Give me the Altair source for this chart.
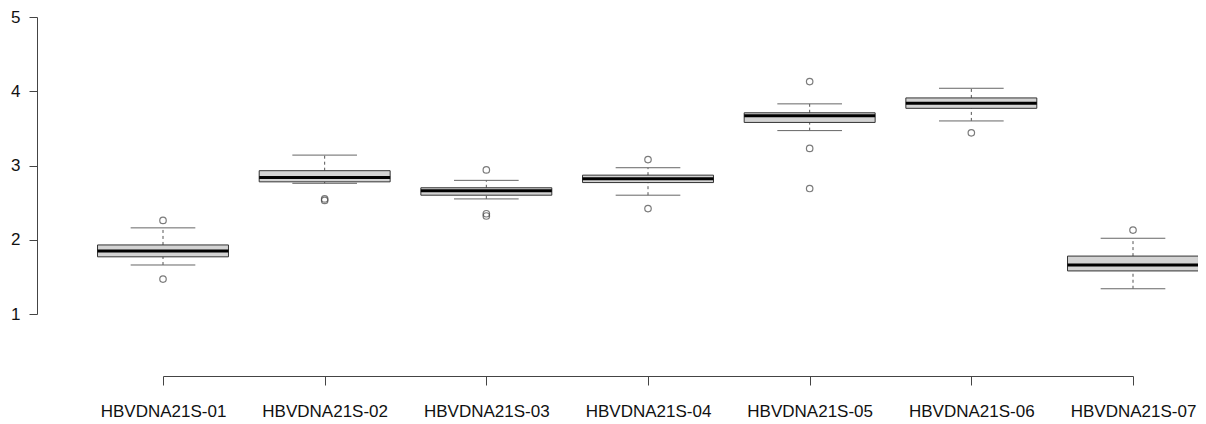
import json
import altair as alt
import pandas as pd

categories = ["HBVDNA21S-01", "HBVDNA21S-02", "HBVDNA21S-03", "HBVDNA21S-04",
              "HBVDNA21S-05", "HBVDNA21S-06", "HBVDNA21S-07"]
positions = [1, 2, 3, 4, 5, 6, 7]
whisker_low = [1.66, 2.76, 2.55, 2.60, 3.47, 3.60, 1.34]
q1 = [1.77, 2.78, 2.60, 2.77, 3.58, 3.77, 1.58]
median = [1.85, 2.84, 2.66, 2.82, 3.67, 3.84, 1.66]
q3 = [1.93, 2.93, 2.70, 2.87, 3.71, 3.91, 1.78]
whisker_high = [2.16, 3.14, 2.80, 2.97, 3.83, 4.04, 2.02]
outlier_group = [1, 1, 2, 2, 3, 3, 3, 4, 4, 5, 5, 5, 6, 7]
outlier_value = [2.26, 1.47, 2.55, 2.53, 2.94, 2.35, 2.32, 3.08, 2.42,
                 4.13, 3.23, 2.69, 3.44, 2.13]
y_ticks = [1, 2, 3, 4, 5]

box_half = 0.405
cap_half = 0.2

boxes = pd.DataFrame({
    "pos": positions, "lo": whisker_low, "q1": q1, "med": median,
    "q3": q3, "hi": whisker_high,
})
outliers = pd.DataFrame({"pos": outlier_group, "val": outlier_value})

FONT = "Liberation Sans"
AXIS_COLOR = "#444444"

xscale = alt.Scale(domain=[1, 7], nice=False, zero=False)
yscale = alt.Scale(domain=[1, 5], nice=False, zero=False)

label_expr = json.dumps(categories) + "[datum.value - 1]"
xaxis = alt.Axis(values=positions, labelExpr=label_expr, title=None, grid=False,
                 offset=62, tickSize=9, labelPadding=18, labelFontSize=17,
                 labelFont=FONT, labelColor="#111111", domainColor=AXIS_COLOR,
                 tickColor=AXIS_COLOR, labelFlush=False, labelOverlap=False)
yaxis = alt.Axis(values=y_ticks, format="d", title=None, grid=False,
                 offset=126, tickSize=8, labelPadding=9, labelFontSize=17,
                 labelFont=FONT, labelColor="#111111", domainColor=AXIS_COLOR,
                 tickColor=AXIS_COLOR, labelFlush=False)

base = alt.Chart(boxes).transform_calculate(
    bl=f"datum.pos - {box_half}", br=f"datum.pos + {box_half}",
    cl=f"datum.pos - {cap_half}", cr=f"datum.pos + {cap_half}",
)

whisk_low = base.mark_rule(color="#555555", strokeDash=[3, 3], strokeWidth=1).encode(
    x=alt.X("pos:Q", scale=xscale, axis=xaxis),
    y=alt.Y("lo:Q", scale=yscale, axis=yaxis), y2="q1:Q")
whisk_high = base.mark_rule(color="#555555", strokeDash=[3, 3], strokeWidth=1).encode(
    x=alt.X("pos:Q", scale=xscale, axis=xaxis),
    y=alt.Y("q3:Q", scale=yscale, axis=yaxis), y2="hi:Q")
cap_low = base.mark_rule(color="#666666", strokeWidth=1).encode(
    x=alt.X("cl:Q", scale=xscale, axis=xaxis), x2="cr:Q",
    y=alt.Y("lo:Q", scale=yscale, axis=yaxis))
cap_high = base.mark_rule(color="#666666", strokeWidth=1).encode(
    x=alt.X("cl:Q", scale=xscale, axis=xaxis), x2="cr:Q",
    y=alt.Y("hi:Q", scale=yscale, axis=yaxis))
box = base.mark_rect(fill="#d3d3d3", stroke="#333333", strokeWidth=1).encode(
    x=alt.X("bl:Q", scale=xscale, axis=xaxis), x2="br:Q",
    y=alt.Y("q1:Q", scale=yscale, axis=yaxis), y2="q3:Q")
med = base.mark_rule(color="#000000", strokeWidth=3).encode(
    x=alt.X("bl:Q", scale=xscale, axis=xaxis), x2="br:Q",
    y=alt.Y("med:Q", scale=yscale, axis=yaxis))
pts = alt.Chart(outliers).mark_point(shape="circle", filled=False, size=42,
                                     color="#444444", strokeWidth=1.2).encode(
    x=alt.X("pos:Q", scale=xscale, axis=xaxis),
    y=alt.Y("val:Q", scale=yscale, axis=yaxis))

chart = alt.layer(whisk_low, whisk_high, cap_low, cap_high, box, med, pts).properties(
    width=970, height=297,
    autosize=alt.AutoSizeParams(type="none"),
    padding={"left": 155, "top": 9, "right": 65, "bottom": 108},
    background="white",
).configure_view(stroke=None)

chart.save("out.html", embed_options={"renderer": "svg", "actions": False})
